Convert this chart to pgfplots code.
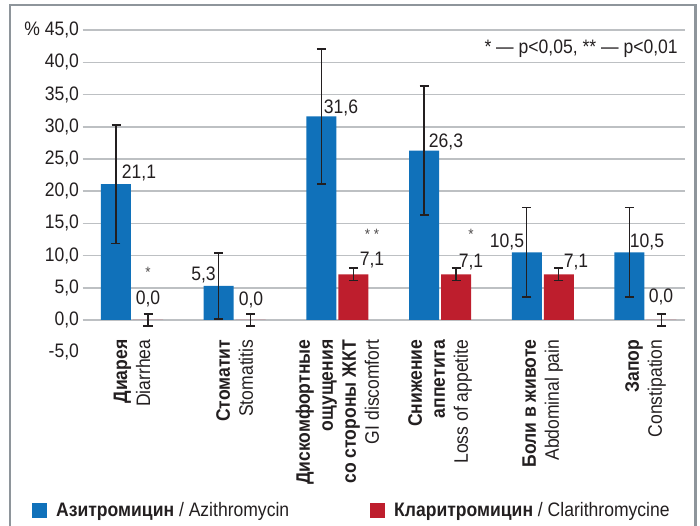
\documentclass[border=0pt]{standalone}
\usepackage{fontspec}
\setmainfont{Liberation Sans}[FakeStretch=0.9]
\usepackage{pgfplots}
\pgfplotsset{compat=1.18}
\definecolor{azblue}{HTML}{1071BA}
\definecolor{clred}{HTML}{BE1E2D}
\definecolor{gridc}{HTML}{BDC0C3}
\definecolor{framec}{HTML}{8E959B}
\definecolor{txt}{HTML}{231F20}
\newcommand{\fs}{\fontsize{19.5pt}{23pt}\selectfont}
\newcommand{\fa}{\fontsize{15pt}{17pt}\selectfont}
\begin{document}
\begin{tikzpicture}[x=1pt,y=1pt]
\useasboundingbox (0,0) rectangle (700,526);
\draw[framec, line width=2.5pt] (10,-5) -- (10,521) -- (695.5,521) -- (695.5,-5);
\begin{axis}[
  at={(82.5pt,173.8pt)}, anchor=south west,
  scale only axis, width=602.5pt, height=322pt,
  xmin=-0.482, xmax=5.385, ymin=-5, ymax=45,
  axis line style={draw=none},
  tick style={draw=none},
  ytick={0,5,...,45},
  yticklabels={{0,0},{5,0},{10,0},{15,0},{20,0},{25,0},{30,0},{35,0},{40,0},{\%\ 45,0}},
  extra y ticks={-5},
  extra y tick labels={-5{,}0},
  extra y tick style={grid=none},
  ymajorgrids,
  grid style={gridc, line width=1.6pt},
  yticklabel style={font=\fs, text=txt},
  xtick={0,1,2,3,4,5},
  xticklabels={
    {\textbf{Диарея}\\Diarrhea},
    {\textbf{Стоматит}\\Stomatitis},
    {\textbf{Дискомфортные}\\\textbf{ощущения}\\\textbf{со стороны ЖКТ}\\GI discomfort},
    {\textbf{Снижение}\\\textbf{аппетита}\\Loss of appetite},
    {\textbf{Боли в животе}\\Abdominal pain},
    {\textbf{Запор}\\Constipation}},
  xticklabel style={rotate=90, anchor=east, align=right, font=\fs, text=txt, inner sep=0pt},
  xticklabel shift=-17pt,
  ybar=2pt, bar width=30pt,
  legend columns=2,
  legend style={at={(-0.0838,-0.4907)}, anchor=west, draw=none, fill=none,
    inner sep=0pt, font=\fs, text=txt,
    /tikz/every odd column/.append style={column sep=7pt},
    /tikz/every even column/.append style={column sep=7pt}},
  legend image code/.code={\fill[#1] (0pt,-7.5pt) rectangle (15pt,7.5pt);},
  error bars/error bar style={line width=1.2pt, color=txt},
  error bars/error mark options={rotate=90, mark size=4.5pt, line width=1.6pt, color=txt},
]
\addplot+[fill=azblue, draw=none, mark=none,
  error bars/.cd, y dir=both, y explicit]
  coordinates {
    (0,21.1) +- (0,9.2)
    (1,5.3)  +- (0,5.1)
    (2,31.6) +- (0,10.5)
    (3,26.3) +- (0,10.0)
    (4,10.5) +- (0,6.95)
    (5,10.5) +- (0,6.95)
  };
\addlegendentry{\makebox[305pt][l]{\textbf{Азитромицин} / Azithromycin}}
\addplot+[fill=clred, draw=none, mark=none,
  error bars/.cd, y dir=both, y explicit]
  coordinates {
    (0,0.0) +- (0,0.95)
    (1,0.0) +- (0,0.95)
    (2,7.1) +- (0,0.95)
    (3,7.1) +- (0,0.95)
    (4,7.1) +- (0,0.95)
    (5,0.0) +- (0,0.95)
  };
\addlegendentry{\textbf{Кларитромицин} / Clarithromycine}
\begin{scope}[every node/.style={font=\fs, text=txt, inner sep=0pt}]
\node at (axis cs:0.068,22.83) {21,1};
\node at (axis cs:0.156,3.26) {0,0};
\node at (axis cs:0.696,6.99) {5,3};
\node at (axis cs:1.159,3.1) {0,0};
\node at (axis cs:2.035,32.92) {31,6};
\node at (axis cs:2.337,9.32) {7,1};
\node at (axis cs:3.057,27.64) {26,3};
\node at (axis cs:3.301,9.0) {7,1};
\node at (axis cs:3.651,12.11) {10,5};
\node at (axis cs:4.323,9.0) {7,1};
\node at (axis cs:5.015,12.11) {10,5};
\node at (axis cs:5.151,3.57) {0,0};
\node[anchor=east] at (axis cs:5.316,42.2) {* --- p<0,05, ** --- p<0,01};
\end{scope}
\begin{scope}[every node/.style={font=\fa, text=txt!80, inner sep=0pt}]
\node at (axis cs:0.156,7.45) {*};
\node at (axis cs:2.337,13.35) {* *};
\node at (axis cs:3.301,13.35) {*};
\end{scope}
\end{axis}
\end{tikzpicture}
\end{document}
